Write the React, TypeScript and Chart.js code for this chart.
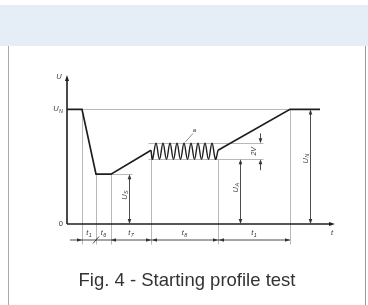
import React, { useEffect, useRef } from 'react';
import { Chart, registerables } from 'chart.js';
Chart.register(...registerables);

// ---- data (time units, voltage units with U_N = 100) ----
const U_N = 100;
const U_S = 43.5;
const U_A = 56.5;
const U_TOP = 70.4; // U_A + 2V
const X_MAX = 268;
const Y_MAX = 130;

const profileX = [0, 15, 29, 44, 84];
const profileY = [100, 100, 43.5, 43.5, 64.3];
const waveX = [84, 85.5, 89, 92.5, 96, 99.5, 103, 106.5, 110, 113.5, 117, 120.5, 124, 127.5, 131, 134.5, 138, 141.5, 145, 148.5, 151];
const waveY = [64.3, 56.5, 70.4, 56.5, 70.4, 56.5, 70.4, 56.5, 70.4, 56.5, 70.4, 56.5, 70.4, 56.5, 70.4, 56.5, 70.4, 56.5, 70.4, 56.5, 64.3];
const rampX = [151, 223, 253];
const rampY = [64.3, 100, 100];

const edgeT = [15, 29, 44, 84, 151, 223];
const edgeTop = [100, 43.5, 43.5, 64.3, 56.5, 100];
const segMain = ['t', 't', 't', 't', 't'];
const segSub = ['1', '6', '7', '8', '1'];

const arrowX = [62, 173, 243];
const arrowTop = [U_S, U_A, U_N];
const arrowSub = ['S', 'A', 'N'];

const BLACK = '#1e1e1e';
const GRAY = '#b8b8b8';

function pts(xs: number[], ys: number[]) {
  return xs.map((x, i) => ({ x, y: ys[i] }));
}

const annotations = {
  id: 'profileAnnotations',
  beforeDatasetsDraw(chart: any) {
    const ctx = chart.ctx;
    const X = (v: number) => chart.scales.x.getPixelForValue(v);
    const Y = (v: number) => chart.scales.y.getPixelForValue(v);
    const dimY = Y(0) + 16;
    ctx.save();
    ctx.strokeStyle = GRAY;
    ctx.lineWidth = 1;
    const line = (x1: number, y1: number, x2: number, y2: number) => {
      ctx.beginPath();
      ctx.moveTo(Math.round(x1) + 0.5, Math.round(y1) + 0.5);
      ctx.lineTo(Math.round(x2) + 0.5, Math.round(y2) + 0.5);
      ctx.stroke();
    };
    // U_N level
    line(X(0), Y(U_N), X(223), Y(U_N));
    // U_S level
    line(X(44), Y(U_S), X(65), Y(U_S));
    // band lines
    line(X(81), Y(U_TOP), X(196), Y(U_TOP));
    line(X(81), Y(U_A), X(196), Y(U_A));
    // vertical edges
    edgeT.forEach((t, i) => line(X(t), Y(edgeTop[i]), X(t), dimY + 4));
    ctx.restore();
  },
  afterDatasetsDraw(chart: any) {
    const ctx = chart.ctx;
    const X = (v: number) => chart.scales.x.getPixelForValue(v);
    const Y = (v: number) => chart.scales.y.getPixelForValue(v);
    const x0 = X(0);
    const y0 = Y(0);
    const dimY = y0 + 16;
    ctx.save();
    ctx.fillStyle = BLACK;
    ctx.strokeStyle = BLACK;

    const head = (x: number, y: number, dir: string, len = 5, hw = 1.8) => {
      ctx.beginPath();
      ctx.moveTo(x, y);
      if (dir === 'r') { ctx.lineTo(x - len, y - hw); ctx.lineTo(x - len, y + hw); }
      if (dir === 'l') { ctx.lineTo(x + len, y - hw); ctx.lineTo(x + len, y + hw); }
      if (dir === 'u') { ctx.lineTo(x - hw, y + len); ctx.lineTo(x + hw, y + len); }
      if (dir === 'd') { ctx.lineTo(x - hw, y - len); ctx.lineTo(x + hw, y - len); }
      ctx.closePath();
      ctx.fill();
    };
    const seg = (x1: number, y1: number, x2: number, y2: number, w = 1) => {
      ctx.lineWidth = w;
      ctx.beginPath();
      ctx.moveTo(x1, y1);
      ctx.lineTo(x2, y2);
      ctx.stroke();
    };
    const label = (main: string, sub: string, x: number, y: number, rot = 0, align = 'center', size = 7.5) => {
      ctx.save();
      ctx.translate(x, y);
      ctx.rotate(rot);
      ctx.font = `italic ${size}px "Liberation Sans", Arial, sans-serif`;
      const w1 = ctx.measureText(main).width;
      ctx.font = `italic ${size * 0.72}px "Liberation Sans", Arial, sans-serif`;
      const w2 = sub ? ctx.measureText(sub).width : 0;
      const total = w1 + w2 + (sub ? 0.5 : 0);
      let sx = -total / 2;
      if (align === 'right') sx = -total;
      if (align === 'left') sx = 0;
      ctx.textBaseline = 'middle';
      ctx.textAlign = 'left';
      ctx.fillStyle = '#333';
      ctx.font = `italic ${size}px "Liberation Sans", Arial, sans-serif`;
      ctx.fillText(main, sx, 0);
      if (sub) {
        ctx.font = `italic ${size * 0.72}px "Liberation Sans", Arial, sans-serif`;
        ctx.fillText(sub, sx + w1 + 0.5, 2);
      }
      ctx.restore();
    };

    // axes
    const xEnd = X(X_MAX);
    const yEnd = Y(Y_MAX);
    seg(x0, y0, xEnd - 4, y0, 1.6);
    head(xEnd, y0, 'r', 6, 2);
    seg(x0, y0, x0, yEnd + 4, 1.6);
    head(x0, yEnd, 'u', 6, 2);

    label('U', '', x0 - 8, yEnd + 2);
    label('t', '', X(265), y0 + 9);
    label('U', 'N', x0 - 4, Y(U_N), 0, 'right');
    ctx.font = '7.5px "Liberation Sans", Arial, sans-serif';
    ctx.textAlign = 'right';
    ctx.textBaseline = 'middle';
    ctx.fillStyle = '#333';
    ctx.fillText('0', x0 - 4, y0);

    // time dimension line
    ctx.strokeStyle = BLACK;
    seg(X(3), dimY, X(223), dimY, 0.8);
    head(X(15), dimY, 'r');
    head(X(44), dimY, 'l');
    head(X(84), dimY, 'r');
    head(X(84) + 1, dimY, 'l');
    head(X(151), dimY, 'r');
    head(X(151) + 1, dimY, 'l');
    head(X(223), dimY, 'r');
    seg(X(29) - 3, dimY + 3.5, X(29) + 3, dimY - 3.5, 0.8);
    segSub.forEach((s, i) => {
      const c = (edgeT[i] + edgeT[i + 1]) / 2;
      label(segMain[i], s, X(c), y0 + 9);
    });

    // vertical voltage arrows
    arrowX.forEach((ax, i) => {
      const px = Math.round(X(ax)) + 0.5;
      seg(px, Y(arrowTop[i]) + 4, px, y0 - 4, 0.8);
      head(px, Y(arrowTop[i]), 'u');
      head(px, y0, 'd');
      const mid = (Y(arrowTop[i]) + y0) / 2;
      label('U', arrowSub[i], px - 5, i === 0 ? mid - 4 : i === 1 ? mid - 4 : mid - 8, -Math.PI / 2);
    });

    // 2V dimension
    const vx = Math.round(X(193)) + 0.5;
    seg(vx, Y(U_TOP) - 10, vx, Y(U_TOP) - 4, 0.8);
    head(vx, Y(U_TOP), 'd');
    seg(vx, Y(U_A) + 4, vx, Y(U_A) + 11, 0.8);
    head(vx, Y(U_A), 'u');
    label('2V', '', vx - 6, (Y(U_TOP) + Y(U_A)) / 2, -Math.PI / 2, 'center', 7);

    // "a" marker
    ctx.strokeStyle = '#444';
    seg(X(126), Y(79), X(118), Y(U_TOP) - 1, 0.6);
    label('a', '', X(127.5), Y(81.5), 0, 'center', 6);

    ctx.restore();
  },
};

export default function App() {
  const ref = useRef<HTMLCanvasElement | null>(null);
  useEffect(() => {
    if (!ref.current) return;
    const chart = new Chart(ref.current, {
      type: 'scatter',
      data: {
        datasets: [
          { data: pts(profileX, profileY), showLine: true, borderColor: BLACK, borderWidth: 1.7, pointRadius: 0, tension: 0 },
          { data: pts(waveX, waveY), showLine: true, borderColor: BLACK, borderWidth: 1.4, pointRadius: 0, tension: 0.4 },
          { data: pts(rampX, rampY), showLine: true, borderColor: BLACK, borderWidth: 1.7, pointRadius: 0, tension: 0 },
        ],
      },
      options: {
        responsive: false,
        animation: false,
        events: [],
        layout: { padding: { left: 67, right: 33, top: 75, bottom: 81 } },
        plugins: { legend: { display: false }, tooltip: { enabled: false }, title: { display: false } },
        scales: {
          x: { type: 'linear', min: 0, max: X_MAX, display: false },
          y: { type: 'linear', min: 0, max: Y_MAX, display: false },
        },
      },
      plugins: [annotations],
    });
    return () => chart.destroy();
  }, []);

  return (
    <div style={{ position: 'fixed', left: 0, top: 0, width: 368, height: 305, background: '#fff', overflow: 'hidden' }}>
      <div style={{ position: 'absolute', left: 0, top: 5, width: 368, height: 41, background: '#e5edf6' }} />
      <div style={{ position: 'absolute', left: 8, top: 46, width: 356, height: 259, borderLeft: '1px solid #aaa', borderRight: '1px solid #999' }} />
      <canvas ref={ref} width={368} height={305} style={{ position: 'absolute', left: 0, top: 0, width: 368, height: 305 }} />
      <div style={{ position: 'absolute', left: 9, width: 356, top: 271, textAlign: 'center', font: '18.5px "Liberation Sans", Arial, sans-serif', lineHeight: '18.5px', color: '#333' }}>
        Fig. 4 - Starting profile test
      </div>
    </div>
  );
}
